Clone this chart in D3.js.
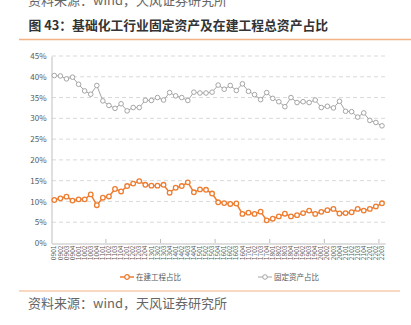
<!DOCTYPE html>
<html><head><meta charset="utf-8">
<script src="https://cdn.jsdelivr.net/npm/d3@7"></script>
<style>html,body{margin:0;padding:0;background:#fff;}svg{display:block;}</style>
</head><body>
<svg id="c" width="411" height="325"></svg>
<script>
const labels = [];
for (let yr = 9; yr <= 22; yr++) for (let q = 1; q <= 4; q++) {
  if (yr === 22 && q > 3) break;
  labels.push(String(yr).padStart(2, "0") + "0" + q);
}
const constructionRatio = [10.35,10.75,11.15,10.2,10.5,10.5,11.7,9.1,10.9,11.2,13.0,12.4,13.7,14.3,14.9,14.0,13.8,13.8,14.0,12.1,13.3,13.7,14.6,12.2,12.9,12.8,11.9,9.8,9.6,9.4,9.5,7.0,7.3,7.0,7.55,5.45,5.85,6.4,7.05,6.4,6.7,7.2,7.8,7.0,7.5,7.9,8.2,7.1,7.2,7.4,8.2,7.8,8.2,8.8,9.55];
const fixedAssetRatio = [40.3,40.2,39.5,39.9,38.2,36.6,35.8,37.9,34.2,33.1,32.4,33.5,31.8,32.6,32.6,34.35,34.3,35.0,34.4,36.2,35.4,35.0,34.3,36.3,36.1,36.1,36.3,38.0,37.0,37.9,36.7,38.3,36.5,35.7,34.5,36.2,34.8,34.0,32.8,35.0,33.8,34.0,33.8,34.4,32.6,32.9,32.5,34.1,31.7,31.6,30.3,31.3,29.5,29.0,28.2];
const yTicks = [0,5,10,15,20,25,30,35,40,45];
const seriesNames = ["在建工程占比", "固定资产占比"];
const colors = ["#ED7D31", "#A5A5A5"];

const svg = d3.select("#c");
const font = "'Noto Sans CJK SC', 'Noto Sans', sans-serif";

// top cut-off source (partially visible in reference)
svg.append("text").attr("x", 28).attr("y", 5).attr("font-family", font).attr("font-size", 13)
  .attr("fill", "#666").text("资料来源：wind，天风证券研究所");
// title
svg.append("text").attr("x", 28.5).attr("y", 30).attr("font-family", font).attr("font-size", 12.8)
  .attr("font-weight", "bold").attr("fill", "#333").text("图 43：基础化工行业固定资产及在建工程总资产占比");
svg.append("line").attr("x1", 19).attr("x2", 411).attr("y1", 39.5).attr("y2", 39.5)
  .attr("stroke", "#F4B183").attr("stroke-width", 1.5);

const x = d3.scaleBand().domain(labels).range([51.3, 385]).padding(0);
const y = d3.scaleLinear().domain([0, 45]).range([243, 56]);

// grid
svg.append("g").selectAll("line").data(yTicks.filter(d => d > 0)).join("line")
  .attr("x1", 52).attr("x2", 385).attr("y1", d => y(d)).attr("y2", d => y(d))
  .attr("stroke", "#D9D9D9").attr("stroke-width", 1).attr("stroke-dasharray", "4,3");

// y axis
const ya = svg.append("g").attr("transform", "translate(51.5,0)")
  .call(d3.axisLeft(y).tickValues(yTicks).tickFormat(d => d + "%").tickSize(0).tickPadding(5));
ya.select(".domain").attr("stroke", "#BFBFBF");
ya.selectAll("text").attr("font-family", font).attr("font-size", 8).attr("fill", "#595959");

// x axis
const xa = svg.append("g").attr("transform", "translate(0,243.5)")
  .call(d3.axisBottom(x).tickSize(0).tickPadding(3));
xa.select(".domain").attr("stroke", "#BFBFBF");
xa.selectAll(".tick").attr("transform", null);
xa.selectAll("text").attr("font-family", font).attr("font-size", 6.6).attr("fill", "#595959")
  .attr("text-anchor", "end").attr("dy", "0.32em")
  .attr("transform", d => `translate(${x(d)+x.bandwidth()/2},2) rotate(-90)`).attr("x", 0).attr("y", 0);
// inner tick marks every 9 bands
svg.append("g").selectAll("line").data(labels.filter((d, i) => i % 9 === 0 && i > 0)).join("line")
  .attr("x1", d => x(d)).attr("x2", d => x(d)).attr("y1", 239).attr("y2", 243)
  .attr("stroke", "#BFBFBF");

const data = [constructionRatio, fixedAssetRatio];
const line = d3.line().x((d, i) => x(labels[i]) + x.bandwidth()/2).y(d => y(d));
[1, 0].forEach(k => {
  const g = svg.append("g");
  g.append("path").datum(data[k]).attr("d", line).attr("fill", "none")
    .attr("stroke", colors[k]).attr("stroke-width", k === 0 ? 1.5 : 1);
  g.selectAll("circle").data(data[k]).join("circle")
    .attr("cx", (d, i) => x(labels[i]) + x.bandwidth()/2).attr("cy", d => y(d))
    .attr("r", 2.3).attr("fill", "#fff").attr("stroke", colors[k]).attr("stroke-width", k === 0 ? 1.3 : 1);
});

// legend
const legX = [120, 258];
seriesNames.forEach((n, k) => {
  const g = svg.append("g").attr("transform", `translate(${legX[k]},277)`);
  g.append("line").attr("x1", 0).attr("x2", 14).attr("stroke", colors[k]).attr("stroke-width", k === 0 ? 1.5 : 1);
  g.append("circle").attr("cx", 7).attr("r", 2.3).attr("fill", "#fff").attr("stroke", colors[k]).attr("stroke-width", k === 0 ? 1.3 : 1);
  g.append("text").attr("x", 16).attr("dy", "0.35em").attr("font-family", font).attr("font-size", 7.5)
    .attr("fill", "#595959").text(n);
});

// bottom rule and source
svg.append("line").attr("x1", 19).attr("x2", 400).attr("y1", 291).attr("y2", 291)
  .attr("stroke", "#F4B183").attr("stroke-width", 1.2);
svg.append("text").attr("x", 28).attr("y", 308).attr("font-family", font).attr("font-size", 13)
  .attr("fill", "#666").text("资料来源：wind，天风证券研究所");
</script>
</body></html>
